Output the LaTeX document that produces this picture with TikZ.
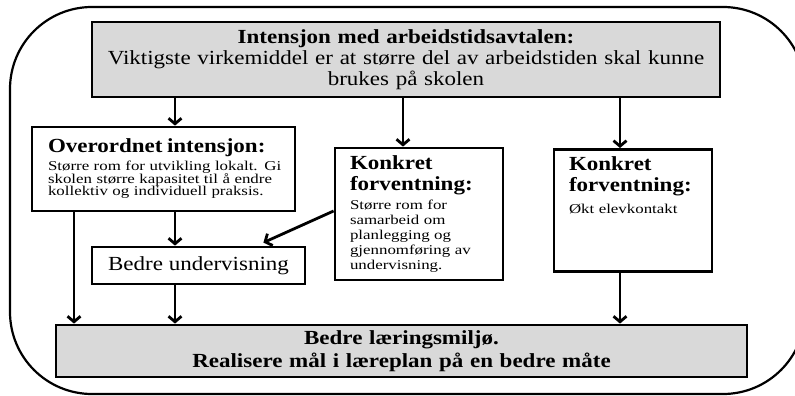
\documentclass[tikz,border=0pt]{standalone}
\usepackage{fontspec}
\setmainfont[FakeStretch=1.15]{Liberation Serif}
\newfontfamily\smallserif[FakeStretch=1.25]{Liberation Serif}
\usetikzlibrary{arrows.meta,positioning}
\newcommand\headfont{\rmfamily\bfseries\fontsize{20}{21}\selectfont}
\newcommand\notefont{\smallserif\fontsize{13.5}{15}\selectfont}

\begin{document}
\begin{tikzpicture}[x=1pt,y=-1pt,->,>={Straight Barb[length=5.5pt,width=13pt]},line width=2.8pt]
	\tikzstyle{box}=[draw,line width=2.8pt,inner sep=0pt,font=\fontsize{20}{21}\selectfont]
	\tikzstyle{grey box}=[box,fill=black!15]

	\useasboundingbox (0,0) rectangle (795,396);
	\draw[-,line width=2.2pt,rounded corners=82pt] (10,7) rectangle (805,394);

	\node[grey box,minimum width=628pt,minimum height=75pt,text width=620pt,align=center] (aim) at (406,59.5)
		{\textbf{Intensjon med arbeidstidsavtalen:}\\Viktigste virkemiddel er at større del av arbeidstiden skal kunne\\brukes på skolen};
	\node[box,minimum width=263pt,minimum height=84pt,text width=231pt,align=left,font=\notefont] (overall) at (163.5,169)
		{{\headfont Overordnet intensjon:}\\[3pt]\mbox{Større rom for utvikling lokalt. Gi}\\[-2.5pt]\mbox{skolen større kapasitet til å endre}\\[-2.5pt]\mbox{kollektiv og individuell praksis.}};
	\node[box,minimum width=168pt,minimum height=132pt,text width=138pt,align=left,font=\notefont] (concrete1) at (419,214)
		{{\headfont Konkret}\\[6pt]{\headfont forventning:}\\[4pt]Større rom for\\samarbeid om\\planlegging og\\gjennomføring av\\undervisning.};
	\node[box,minimum width=158pt,text width=128pt,align=left,font=\notefont,anchor=north,inner ysep=7pt,text depth=94pt] (concrete2) at (633,148)
		{{\headfont Konkret}\\[6pt]{\headfont forventning:}\\[7pt]Økt elevkontakt};
	\node[box,minimum width=213pt,minimum height=37pt] (teaching) at (198.5,265.5) {Bedre undervisning};
	\node[grey box,minimum width=691pt,minimum height=52pt,text width=680pt,align=center,font=\headfont] (goal) at (401.5,351)
		{Bedre læringsmiljø.\\[2pt]Realisere mål i læreplan på en bedre måte};

	\coordinate (x1) at (74,0);
	\coordinate (x2) at (175,0);
	\coordinate (x3) at (403,0);
	\coordinate (x4) at (620,0);

	\draw (aim.south -| x2) -- (overall.north -| x2);
	\draw (aim.south -| x3) -- (concrete1.north -| x3);
	\draw (aim.south -| x4) -- (concrete2.north -| x4);
	\draw (overall.south -| x1) -- (goal.north -| x1);
	\draw (overall.south -| x2) -- (teaching.north -| x2);
	\draw (teaching.south -| x2) -- (goal.north -| x2);
	\draw (concrete2.south -| x4) -- (goal.north -| x4);
	\draw (concrete1.west |- 0,211) -- ([shift={(-43,-3)}]teaching.north east);
\end{tikzpicture}
\end{document}
